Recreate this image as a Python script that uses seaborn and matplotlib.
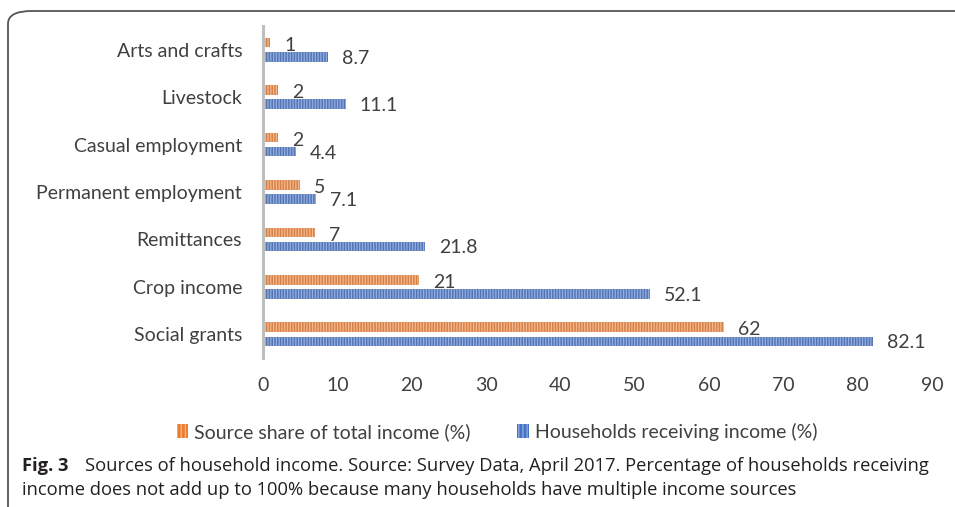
import matplotlib.pyplot as plt
import pandas as pd
import seaborn as sns
from matplotlib.patches import FancyBboxPatch, Patch

# Data
categories = ['Arts and crafts', 'Livestock', 'Casual employment', 'Permanent employment',
              'Remittances', 'Crop income', 'Social grants']
share_of_income = [1, 2, 2, 5, 7, 21, 62]
households_receiving = [8.7, 11.1, 4.4, 7.1, 21.8, 52.1, 82.1]
series_names = ['Source share of total income (%)', 'Households receiving income (%)']
x_ticks = [0, 10, 20, 30, 40, 50, 60, 70, 80, 90]

df = pd.DataFrame({
    'category': categories * 2,
    'value': share_of_income + households_receiving,
    'series': [series_names[0]] * len(categories) + [series_names[1]] * len(categories),
})

sns.set_style('white')
plt.rcParams['font.family'] = ['Lato', 'DejaVu Sans']
plt.rcParams['hatch.linewidth'] = 0.9

colors = ['#ED7D31', '#4472C4']
stripe_colors = ['#F6B88E', '#94AEE0']
text_color = '#404040'
hatch = '||||||'

fig = plt.figure(figsize=(9.55, 5.07), dpi=100)
ax = fig.add_axes([263 / 955, 1 - 358 / 507, (932 - 263) / 955, 332 / 507])

sns.barplot(data=df, y='category', x='value', hue='series', hue_order=series_names,
            order=categories, palette=colors, width=0.6, gap=0.33, orient='h',
            linewidth=0, legend=False, ax=ax)

# stripes (hatch colour follows the edge colour)
for container, sc in zip(ax.containers, stripe_colors):
    for bar in container:
        bar.set_edgecolor(sc)
        bar.set_linewidth(0)
        bar.set_hatch(hatch)

# Data labels
for i, container in enumerate(ax.containers):
    texts = ax.bar_label(container, labels=[f'{v:g}' for v in container.datavalues],
                         padding=10, fontsize=14, color=text_color)
    for t in texts:
        t.xyann = (t.xyann[0], -2 if i == 0 else -1)

ax.set_xlim(0, 90)
ax.set_ylim(6.5, -0.5)
ax.set_xticks(x_ticks)
ax.set_xlabel('')
ax.set_ylabel('')
ax.tick_params(axis='x', length=0, pad=14, labelsize=14, labelcolor=text_color)
ax.tick_params(axis='y', length=0, pad=15, labelsize=14, labelcolor=text_color)
for side in ['top', 'right', 'bottom']:
    ax.spines[side].set_visible(False)
ax.spines['left'].set_color('#BFBFBF')
ax.spines['left'].set_linewidth(2.2)

# Legend
handles = [Patch(facecolor=c, edgecolor=sc, hatch='||||', linewidth=0)
           for c, sc in zip(colors, stripe_colors)]
fig.legend(handles, series_names, loc='center', bbox_to_anchor=(497 / 955, 1 - 432 / 507),
           ncol=2, frameon=False, fontsize=14, handlelength=0.6, handleheight=0.7,
           handletextpad=0.3, columnspacing=2.4, labelcolor=text_color)

# Rounded frame around the figure
frame = FancyBboxPatch((8 / 955, -0.1), 1.2, 1.1 - 11 / 507,
                       boxstyle='round,pad=0,rounding_size=0.025',
                       transform=fig.transFigure, fill=False,
                       edgecolor='#555555', linewidth=1.3, clip_on=False)
fig.patches.append(frame)

# Caption
cap_font = ['Open Sans', 'DejaVu Sans']
cap_size = 13.2
t1 = fig.text(22 / 955, 1 - 466 / 507, 'Fig. 3', fontsize=cap_size, fontweight='bold',
              family=cap_font, color='#231F20', va='center')
fig.canvas.draw()
bb = t1.get_window_extent()
fig.text((bb.x1 + 16) / 955, 1 - 466 / 507,
         'Sources of household income. Source: Survey Data, April 2017. Percentage of households receiving',
         fontsize=cap_size, family=cap_font, color='#231F20', va='center')
fig.text(22 / 955, 1 - 490 / 507,
         'income does not add up to 100% because many households have multiple income sources',
         fontsize=cap_size, family=cap_font, color='#231F20', va='center')

fig.savefig('out.png', dpi=100)
